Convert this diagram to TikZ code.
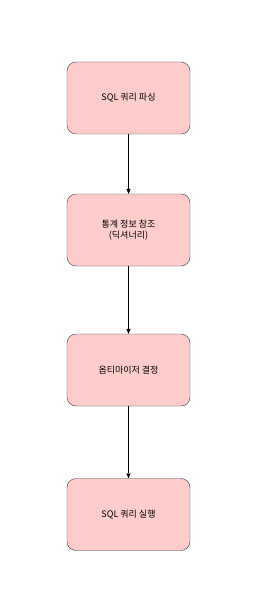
\documentclass[tikz,border=0pt]{standalone}
\usepackage{fontspec}
\newfontfamily\kofont{Noto Sans CJK KR}
\usetikzlibrary{arrows.meta}
\definecolor{boxfill}{HTML}{FFCCCC}
\definecolor{boxline}{HTML}{36393D}

\begin{document}
\begin{tikzpicture}[x=1pt, y=-1pt,
        stepbox/.style={draw=boxline, fill=boxfill, rounded corners=9pt,
            minimum width=123pt, minimum height=72pt, inner sep=2pt,
            align=center, font=\kofont\fontsize{9}{10.5}\selectfont},
        flow/.style={-{Triangle[length=5pt, width=4pt]}, black}]
            \useasboundingbox (0,0) rectangle (267,596);
            \node[stepbox] (parse) at (128.5,98) {SQL 쿼리 파싱};
            \node[stepbox] (stats) at (128.5,230) {통계 정보 참조\\(딕셔너리)};
            \node[stepbox] (optim) at (128.5,370) {옵티마이저 결정};
            \node[stepbox] (exec) at (128.5,514.5) {SQL 쿼리 실행};
            \draw[flow] (parse) -- (stats);
            \draw[flow] (stats) -- (optim);
            \draw[flow] (optim) -- (exec);
        \end{tikzpicture}
\end{document}
